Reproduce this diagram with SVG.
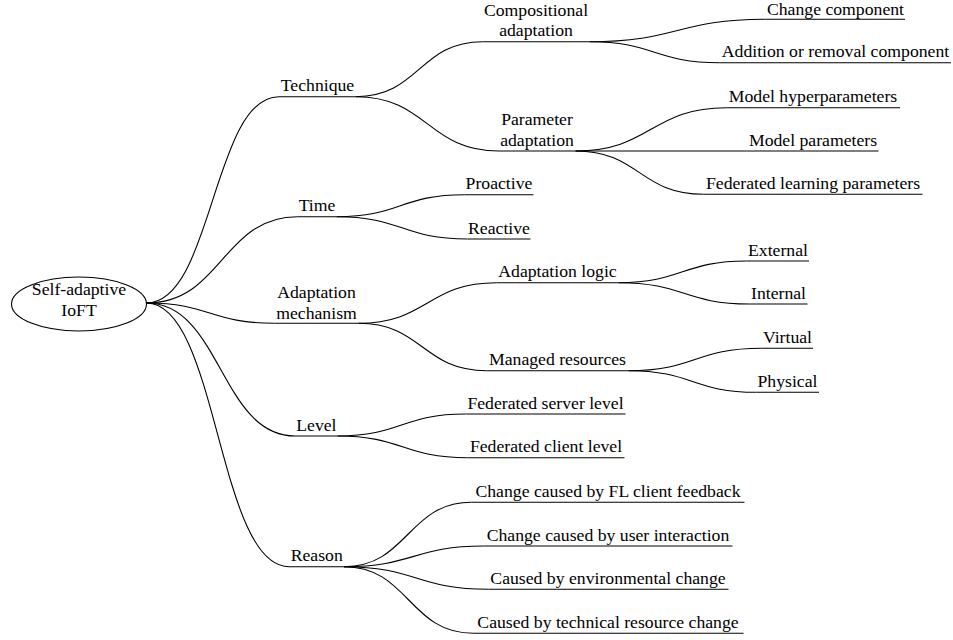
<svg xmlns="http://www.w3.org/2000/svg" width="953" height="640" viewBox="0 0 953 640">
  <style>
    text { font-family: "Liberation Serif", "Times New Roman", serif; font-size: 17.7px; fill: #000; text-anchor: middle; }
    .ul { stroke: #000; stroke-width: 1.1; fill: none; }
    .edge { stroke: #000; stroke-width: 1.1; fill: none; }
    .root { stroke: #000; stroke-width: 1.1; fill: #fff; }
  </style>
  <rect width="953" height="640" fill="#fff"/>

  <!-- connectors: horizontal S-curves from a parent's right end to a child's left end -->
  <g id="connectors">
    <path class="edge" d="M146.5 303 C212.75 303 212.75 96.7 279 96.7"/>
    <path class="edge" d="M146.5 303 C222 303 222 216.7 297.5 216.7"/>
    <path class="edge" d="M146.5 303 C210.5 303 210.5 323.3 274.5 323.3"/>
    <path class="edge" d="M146.5 303 C220.75 303 220.75 436 295 436"/>
    <path class="edge" d="M146.5 303 C217.75 303 217.75 566.7 289 566.7"/>

    <path class="edge" d="M356 96.7 C419.25 96.7 419.25 41.7 482.5 41.7"/>
    <path class="edge" d="M356 96.7 C427.5 96.7 427.5 151 499 151"/>
    <path class="edge" d="M589.5 41.7 C677.5 41.7 677.5 19.3 765.5 19.3"/>
    <path class="edge" d="M589.5 41.7 C654.5 41.7 654.5 62.7 719.5 62.7"/>
    <path class="edge" d="M575.5 151 C651 151 651 107.7 726.5 107.7"/>
    <path class="edge" d="M575.5 151 L746.5 151"/>
    <path class="edge" d="M575.5 151 C639.5 151 639.5 194.3 703.5 194.3"/>

    <path class="edge" d="M336.5 216.7 C400.5 216.7 400.5 194.7 464.5 194.7"/>
    <path class="edge" d="M336.5 216.7 C402 216.7 402 239 467.5 239"/>

    <path class="edge" d="M358.5 323.3 C427.5 323.3 427.5 282.7 496.5 282.7"/>
    <path class="edge" d="M358.5 323.3 C422.5 323.3 422.5 370.7 486.5 370.7"/>
    <path class="edge" d="M618.5 282.7 C682.5 282.7 682.5 261 746.5 261"/>
    <path class="edge" d="M618.5 282.7 C684 282.7 684 304 749.5 304"/>
    <path class="edge" d="M628.5 370.7 C695 370.7 695 348.3 761.5 348.3"/>
    <path class="edge" d="M628.5 370.7 C692.5 370.7 692.5 392.3 756.5 392.3"/>

    <path class="edge" d="M337.5 436 C401.5 436 401.5 414 465.5 414"/>
    <path class="edge" d="M337.5 436 C402.5 436 402.5 457.7 467.5 457.7"/>

    <path class="edge" d="M344 566.7 C407.75 566.7 407.75 502.3 471.5 502.3"/>
    <path class="edge" d="M344 566.7 C413.75 566.7 413.75 546 483.5 546"/>
    <path class="edge" d="M344 566.7 C416.25 566.7 416.25 589.3 488.5 589.3"/>
    <path class="edge" d="M344 566.7 C408.75 566.7 408.75 633.3 473.5 633.3"/>
  </g>

  <!-- root -->
  <g id="root">
    <ellipse class="root" cx="79" cy="304" rx="67.5" ry="27"/>
    <text x="79" y="294.5">Self-adaptive</text>
    <text x="79" y="315.7">IoFT</text>
  </g>

  <!-- first level -->
  <g id="technique">
    <line class="ul" x1="279" y1="96.7" x2="356" y2="96.7"/>
    <text x="317.5" y="91.2">Technique</text>
  </g>
  <g id="time">
    <line class="ul" x1="297.5" y1="216.7" x2="336.5" y2="216.7"/>
    <text x="317" y="211.2">Time</text>
  </g>
  <g id="mechanism">
    <line class="ul" x1="274.5" y1="323.3" x2="358.5" y2="323.3"/>
    <text x="316.5" y="297.5">Adaptation</text>
    <text x="316.5" y="318.5">mechanism</text>
  </g>
  <g id="level">
    <line class="ul" x1="295" y1="436" x2="337.5" y2="436"/>
    <text x="316.4" y="430.5">Level</text>
  </g>
  <g id="reason">
    <line class="ul" x1="289" y1="566.7" x2="344" y2="566.7"/>
    <text x="316.7" y="561.2">Reason</text>
  </g>

  <!-- second level -->
  <g id="compositional">
    <line class="ul" x1="482.5" y1="41.7" x2="589.5" y2="41.7"/>
    <text x="536" y="15.5">Compositional</text>
    <text x="536" y="36.3">adaptation</text>
  </g>
  <g id="parameter">
    <line class="ul" x1="499" y1="151" x2="575.5" y2="151"/>
    <text x="537" y="124.5">Parameter</text>
    <text x="537" y="145.5">adaptation</text>
  </g>
  <g id="proactive">
    <line class="ul" x1="464.5" y1="194.7" x2="533.5" y2="194.7"/>
    <text x="499" y="189.2">Proactive</text>
  </g>
  <g id="reactive">
    <line class="ul" x1="467.5" y1="239" x2="530.5" y2="239"/>
    <text x="499" y="233.5">Reactive</text>
  </g>
  <g id="logic">
    <line class="ul" x1="496.5" y1="282.7" x2="618.5" y2="282.7"/>
    <text x="557.5" y="277.2">Adaptation logic</text>
  </g>
  <g id="managed">
    <line class="ul" x1="486.5" y1="370.7" x2="628.5" y2="370.7"/>
    <text x="557.5" y="365.2">Managed resources</text>
  </g>
  <g id="server">
    <line class="ul" x1="465.5" y1="414" x2="625.5" y2="414"/>
    <text x="545.5" y="408.5">Federated server level</text>
  </g>
  <g id="client">
    <line class="ul" x1="467.5" y1="457.7" x2="624.5" y2="457.7"/>
    <text x="546" y="452.2">Federated client level</text>
  </g>
  <g id="fl-feedback">
    <line class="ul" x1="471.5" y1="502.3" x2="744.5" y2="502.3"/>
    <text x="608" y="496.8">Change caused by FL client feedback</text>
  </g>
  <g id="user-interaction">
    <line class="ul" x1="483.5" y1="546" x2="732.5" y2="546"/>
    <text x="608" y="540.5">Change caused by user interaction</text>
  </g>
  <g id="environmental">
    <line class="ul" x1="488.5" y1="589.3" x2="728.5" y2="589.3"/>
    <text x="608" y="583.8">Caused by environmental change</text>
  </g>
  <g id="technical">
    <line class="ul" x1="473.5" y1="633.3" x2="743.5" y2="633.3"/>
    <text x="608" y="627.8">Caused by technical resource change</text>
  </g>

  <!-- third level -->
  <g id="change-component">
    <line class="ul" x1="765.5" y1="19.3" x2="905" y2="19.3"/>
    <text x="835.5" y="15">Change component</text>
  </g>
  <g id="addition-removal">
    <line class="ul" x1="719.5" y1="62.7" x2="951" y2="62.7"/>
    <text x="835.5" y="57.2">Addition or removal component</text>
  </g>
  <g id="hyperparameters">
    <line class="ul" x1="726.5" y1="107.7" x2="900" y2="107.7"/>
    <text x="813" y="102.2">Model hyperparameters</text>
  </g>
  <g id="model-parameters">
    <line class="ul" x1="746.5" y1="151" x2="878.5" y2="151"/>
    <text x="813" y="145.5">Model parameters</text>
  </g>
  <g id="fl-parameters">
    <line class="ul" x1="703.5" y1="194.3" x2="922.5" y2="194.3"/>
    <text x="813" y="188.8">Federated learning parameters</text>
  </g>
  <g id="external">
    <line class="ul" x1="746.5" y1="261" x2="809" y2="261"/>
    <text x="778" y="255.5">External</text>
  </g>
  <g id="internal">
    <line class="ul" x1="749.5" y1="304" x2="807.5" y2="304"/>
    <text x="778.5" y="298.5">Internal</text>
  </g>
  <g id="virtual">
    <line class="ul" x1="761.5" y1="348.3" x2="813" y2="348.3"/>
    <text x="787.5" y="342.8">Virtual</text>
  </g>
  <g id="physical">
    <line class="ul" x1="756.5" y1="392.3" x2="819" y2="392.3"/>
    <text x="787.5" y="386.8">Physical</text>
  </g>
</svg>
